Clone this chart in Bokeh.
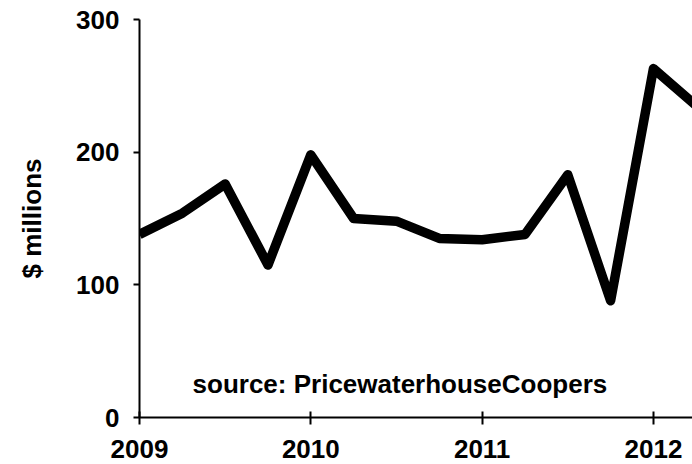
from bokeh.plotting import figure
from bokeh.models import FixedTicker, Range1d, Label
from bokeh.embed import file_html
from bokeh.resources import INLINE

quarters = [2009.0, 2009.25, 2009.5, 2009.75, 2010.0, 2010.25, 2010.5, 2010.75,
            2011.0, 2011.25, 2011.5, 2011.75, 2012.0, 2012.25]
values = [138, 154, 176, 115, 198, 150, 148, 135, 134, 138, 183, 88, 263, 235]
x_ticks = [2009, 2010, 2011, 2012]
y_ticks = [0, 100, 200, 300]
y_label = "$ millions"
source_text = "source: PricewaterhouseCoopers"

FONT = "Liberation Sans"

p = figure(width=692, height=464, output_backend="svg", toolbar_location=None,
           x_range=Range1d(2009, 2012.228), y_range=Range1d(0, 300),
           min_border_left=139, min_border_right=0, min_border_top=19,
           min_border_bottom=47)
p.outline_line_color = None
p.xgrid.visible = False
p.ygrid.visible = False
p.background_fill_color = "white"
p.border_fill_color = "white"

p.line(quarters, values, line_color="black", line_width=9.5, line_join="round")

for ax in (p.xaxis[0], p.yaxis[0]):
    ax.axis_line_width = 2
    ax.major_tick_line_width = 2
    ax.minor_tick_line_color = None
    ax.major_label_text_font = FONT
    ax.major_label_text_font_style = "bold"
    ax.major_label_text_font_size = "26px"
    ax.major_label_text_color = "black"

p.xaxis.ticker = FixedTicker(ticks=x_ticks)
p.xaxis.major_tick_in = 6
p.xaxis.major_tick_out = 7
p.xaxis.major_label_standoff = 15

p.yaxis.ticker = FixedTicker(ticks=y_ticks)
p.yaxis.major_tick_in = 0
p.yaxis.major_tick_out = 6
p.yaxis.major_label_standoff = 14
p.yaxis.axis_label = y_label
p.yaxis.axis_label_text_font = FONT
p.yaxis.axis_label_text_font_style = "bold"
p.yaxis.axis_label_text_font_size = "26px"
p.yaxis.axis_label_text_color = "black"
p.yaxis.axis_label_standoff = 26

p.add_layout(Label(x=2010.52, y=25, text=source_text, text_font=FONT,
                   text_font_style="bold", text_font_size="26px",
                   text_align="center", text_baseline="middle",
                   text_color="black"))

open("out.html", "w").write(file_html(p, INLINE))
